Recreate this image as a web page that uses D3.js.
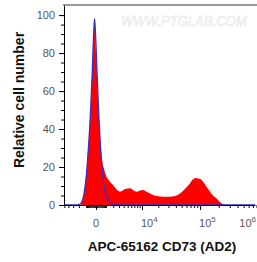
<!DOCTYPE html>
<html>
<head>
<meta charset="utf-8">
<script src="https://cdn.jsdelivr.net/npm/d3@7"></script>
<style>
  body { margin: 0; background: #fff; }
  svg { display: block; font-family: "Liberation Sans", Arial, sans-serif; }
</style>
</head>
<body>
<div id="chart"></div>
<script>
// sample (red, filled) histogram: fluorescence value -> relative count
const sampleX = [-1820, -1530, -1260, -1010, -780, -560, -360, -265, -175, -130, -85, 0, 85, 175, 265, 360, 460, 560, 780, 1010,
    1260, 1530, 1980, 2470, 3220, 3860, 4580, 5650, 6900, 7970, 9160, 10500, 12500, 14200, 16100, 19000, 21500, 26200,
    32000, 38800, 47000, 54800, 61400, 68800, 77000, 86200, 92900, 100000, 112000, 125000, 145000, 162000, 188000, 218000, 252000];
const sampleY = [0, 1.5, 6, 15, 28, 45, 68, 82, 94, 97, 93, 80, 68, 56, 45, 36, 29, 24, 19, 15.5,
    13.5, 12.3, 10.5, 8.5, 7, 7.8, 8.5, 8.8, 7.5, 7, 7.6, 7.9, 6.8, 6.1, 5.3, 4.7, 4.5, 4.4,
    4.4, 4.8, 6.1, 8, 9.6, 11.5, 13.5, 14.2, 14, 13.8, 12.3, 10, 7, 5, 3.2, 1, 0];

// isotype control (blue outline)
const controlX = [-5100, -2500, -1820, -1530, -1260, -1010, -780, -560, -360, -265, -175, -130, -85, 0, 85, 175, 265, 360, 560,
    780, 1010, 1260, 1530, 1980, 2470, 757000];
const controlY = [0, 0, 0.5, 2, 6, 14, 27, 44, 67, 82, 94, 98, 95, 84, 70, 57, 45, 35, 20,
    10, 5, 2.5, 1.2, 0.3, 0, 0];

const xMajor = [0, 1e4, 1e5, 1e6];
const yMajor = [0, 20, 40, 60, 80, 100];
const xLabel = "APC-65162 CD73 (AD2)";
const yLabel = "Relative cell number";

const width = 257, height = 262;
const margin = { top: 5, right: 2, bottom: 57, left: 64 };

const svg = d3.select("#chart").append("svg")
    .attr("width", width)
    .attr("height", height);

const x = d3.scaleSymlog()
    .constant(2300)
    .domain([-5100, 757000])
    .range([margin.left, width - margin.right]);
const y = d3.scaleLinear()
    .domain([0, 105.3])
    .range([height - margin.bottom, margin.top]);

// watermark (narrow, light outline letters)
svg.append("text")
    .attr("transform", "translate(121,26) scale(0.87,1)")
    .attr("font-size", 15)
    .attr("font-style", "italic")
    .attr("fill", "#fafafa")
    .attr("stroke", "#dedede")
    .attr("stroke-width", 0.45)
    .text("WWW.PTGLAB.COM");

const sample = sampleX.map((v, i) => ({ v, c: sampleY[i] }));
const control = controlX.map((v, i) => ({ v, c: controlY[i] }));

svg.append("path")
    .datum(sample)
    .attr("fill", "#ff0000")
    .attr("d", d3.area().x(d => x(d.v)).y0(y(0)).y1(d => y(d.c)).curve(d3.curveMonotoneX));

svg.append("path")
    .datum(control)
    .attr("fill", "none")
    .attr("stroke", "#3a2fc4")
    .attr("stroke-width", 1.3)
    .attr("d", d3.line().x(d => x(d.v)).y(d => y(d.c)).curve(d3.curveMonotoneX));

// top frame line
svg.append("line")
    .attr("x1", margin.left - 1).attr("x2", width)
    .attr("y1", margin.top).attr("y2", margin.top)
    .attr("stroke", "#999").attr("stroke-width", 2);

// x axis minor ticks
const xMinor = [];
[100, 1000, 10000, 100000].forEach(dec => {
    for (let k = 1; k <= 9; k++) {
        [k * dec, -k * dec].forEach(v => {
            if (!xMajor.includes(v) && v > x.domain()[0] && v < 8.2e5) xMinor.push(v);
        });
    }
});

const gxMinor = svg.append("g")
    .attr("transform", `translate(0,${y(0)})`)
    .call(d3.axisBottom(x).tickValues(xMinor).tickSize(3).tickFormat(""));
gxMinor.select(".domain").remove();

const gx = svg.append("g")
    .attr("transform", `translate(0,${y(0)})`)
    .call(d3.axisBottom(x).tickValues(xMajor.filter(v => x(v) <= width - margin.right)).tickSize(5).tickFormat("").tickSizeOuter(0));
gx.select(".domain").attr("stroke", "#000");

// x tick labels
const xt = svg.append("g")
    .attr("font-size", 11)
    .attr("fill", "#555");
xMajor.forEach(v => {
    const t = xt.append("text").attr("y", 227);
    if (v === 0) {
        t.attr("x", x(v)).attr("text-anchor", "middle").text("0");
    } else if (x(v) > width - 20) {
        // label past the plot edge: keep it inside the picture
        t.attr("x", width - 1).attr("text-anchor", "end").text("10");
        t.append("tspan").attr("font-size", 8).attr("dy", -5)
            .text(Math.round(Math.log10(v)));
    } else {
        t.attr("x", x(v) - 1).attr("text-anchor", "start").text("10");
        t.append("tspan").attr("font-size", 8).attr("dy", -5)
            .text(Math.round(Math.log10(v)));
    }
});

// y axis
const gyMinor = svg.append("g")
    .attr("transform", `translate(${margin.left},0)`)
    .call(d3.axisLeft(y).tickValues(d3.range(0, 101, 5)).tickSize(3).tickFormat(""));
gyMinor.select(".domain").remove();

const gy = svg.append("g")
    .attr("transform", `translate(${margin.left},0)`)
    .call(d3.axisLeft(y).tickValues(yMajor).tickSize(5).tickPadding(4).tickSizeOuter(0));
gy.selectAll("text")
    .attr("font-size", 11)
    .attr("fill", "#555")
    .attr("font-family", "Liberation Sans, Arial, sans-serif");

// axis titles
svg.append("text")
    .attr("x", 162).attr("y", 251)
    .attr("text-anchor", "middle")
    .attr("font-size", 13.5)
    .attr("font-weight", "bold")
    .attr("fill", "#111")
    .text(xLabel);

svg.append("text")
    .attr("transform", `translate(24,${(margin.top + y(0)) / 2 - 5}) rotate(-90)`)
    .attr("text-anchor", "middle")
    .attr("font-size", 14)
    .attr("font-weight", "bold")
    .attr("fill", "#111")
    .text(yLabel);
</script>
</body>
</html>
